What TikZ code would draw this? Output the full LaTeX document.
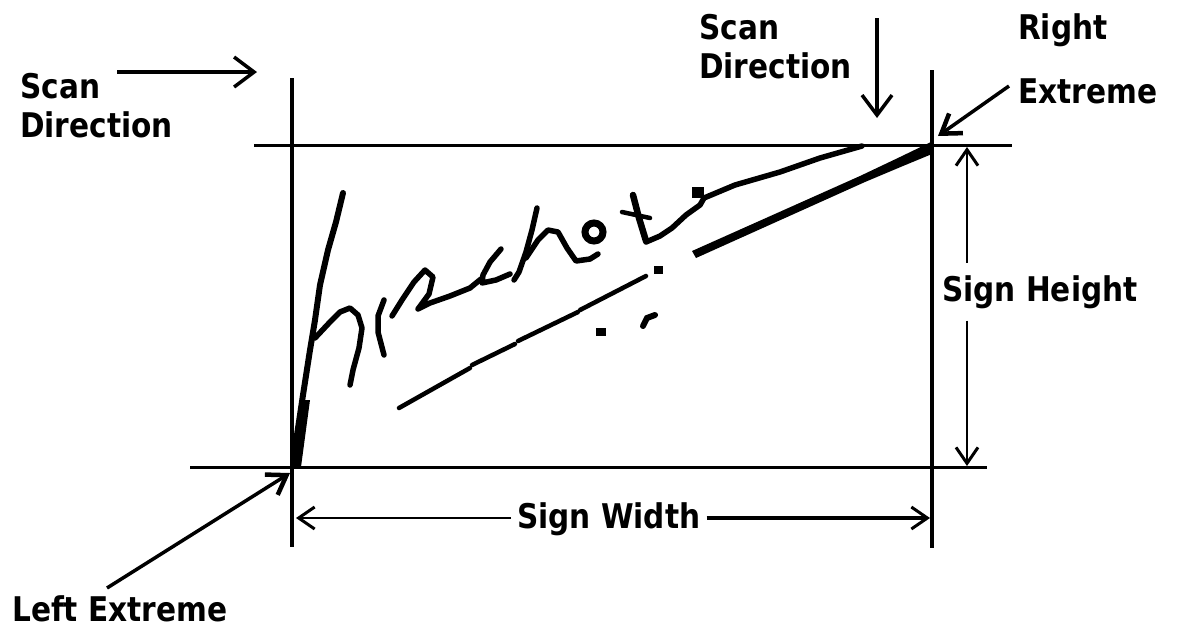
\documentclass[tikz,border=0pt]{standalone}
\usepackage{fontspec}
\newfontfamily\lblfont{DejaVu Sans}[FakeStretch=0.87]
\usetikzlibrary{arrows.meta}
\begin{document}
\begin{tikzpicture}[x=1pt,y=-1pt,
  lbl/.style={font=\lblfont\bfseries\fontsize{34}{39}\selectfont, inner sep=0pt, align=left},
  frameline/.style={line width=3pt},
  ink/.style={line width=5.5pt, line cap=round, line join=round},
  thinink/.style={line width=4.5pt, line cap=round, line join=round},
  scanarrow/.style={line width=4.5pt, -{Straight Barb[length=20pt,width=30pt,line width=3.5pt]}},
  extarrow/.style={line width=3.5pt, -{Straight Barb[length=18pt,width=24pt,line width=4.5pt]}},
  dimarrow/.style={line width=2.5pt, -{Straight Barb[length=16pt,width=22pt,line width=3pt]}},
  dimarrowthick/.style={line width=4.5pt, -{Straight Barb[length=16pt,width=22pt,line width=3pt]}}]
\useasboundingbox (0,0) rectangle (1189,630);
\fill[white] (0,0) rectangle (1189,630);

% frame lines
\draw[line width=4.5pt] (292,78) -- (292,547);
\draw[line width=3.5pt] (932,70) -- (932,548);
\draw[frameline] (254,145) -- (1012,145);
\draw[frameline] (190,467) -- (987,467);

% labels
\node[lbl, anchor=north west] (scanL) at (20,73) {Scan\\Direction};
\node[lbl, anchor=north west] (scanT) at (699,14) {Scan\\Direction};
\node[lbl, anchor=north west, font=\lblfont\bfseries\fontsize{34}{64}\selectfont] (rext) at (1018,13) {Right\\Extreme};
\node[lbl, anchor=base west] (lext) at (12,621) {Left Extreme};
\node[lbl, anchor=base west] (sh) at (942,301) {Sign Height};
\node[lbl, anchor=base west, inner xsep=6pt] (sw) at (511,528) {Sign Width};

% coordinates for free arrow ends
\coordinate (scanLa) at (117,72);
\coordinate (scanLb) at (257,72);
\coordinate (scanTa) at (877,18);
\coordinate (scanTb) at (877,118);
\coordinate (rexta) at (1009,86);
\coordinate (rextb) at (938,136);
\coordinate (lexta) at (107,588);
\coordinate (lextb) at (290,473);
\coordinate (hx) at (967,0);
\coordinate (htop) at (967,147);
\coordinate (hbot) at (967,466);
\coordinate (wy) at (0,518);
\coordinate (wleft) at (296,518);
\coordinate (wright) at (930,518);

% arrows
\draw[scanarrow] (scanLa) -- (scanLb);
\draw[scanarrow] (scanTa) -- (scanTb);
\draw[extarrow] (rexta) -- (rextb);
\draw[extarrow] (lexta) -- (lextb);
\draw[dimarrow, shorten <=12pt] (sh.north -| hx) -- (htop);
\draw[dimarrow, shorten <=12pt] (sh.south -| hx) -- (hbot);
\draw[dimarrow] (sw.west |- wy) -- (wleft);
\draw[dimarrowthick] (sw.east |- wy) -- (wright);

% signature
\draw[line width=6pt, line cap=round, line join=round]
  (343,193) -- (336,222) -- (328,250) -- (320,285) -- (315,320) -- (310,350) -- (303,395) -- (297,435) -- (293,465);
\fill (295,466) -- (302,400) -- (310,400) -- (301,467) -- cycle;
\draw[ink] (315,338) -- (330,322) -- (340,312) -- (350,308) -- (358,315) -- (362,328) -- (359,348) -- (353,370) -- (350,385);
\draw[ink] (384,355) -- (378,332) -- (378,316) -- (384,300);
\draw[ink] (392,316) -- (402,300) -- (414,282) -- (425,270) -- (433,277) -- (429,294) -- (418,309) -- (430,303) -- (450,296) -- (470,288) -- (481,279);
\draw[ink] (501,249) -- (490,262) -- (483,275) -- (482,283) -- (496,280) -- (510,274);
\draw[ink] (537,208) -- (532,230) -- (526,252) -- (519,272) -- (514,280);
\draw[ink] (526,258) -- (538,240) -- (548,230) -- (558,232) -- (567,248) -- (576,261) -- (590,259) -- (598,254);
\draw[line width=7pt] (594,232) ellipse [x radius=9pt, y radius=9pt];
\draw[line width=6.5pt, line cap=round] (633,195) -- (639,218) -- (646,241);
\draw[thinink] (622,212) -- (650,218);
\draw[ink] (646,242) -- (660,236) -- (672,228) -- (686,215) -- (700,205) -- (704,198) -- (735,185) -- (780,172) -- (820,158) -- (862,146);
\fill (692,187) rectangle (704,198);
\fill (692,251) -- (860,176) -- (900,157) -- (931,142) -- (932,154) -- (903,166) -- (865,182) -- (696,258) -- cycle;
\draw[thinink] (399,408) -- (470,368);
\draw[thinink] (472,365) -- (515,344);
\draw[thinink] (518,341) -- (578,312);
\draw[thinink] (580,310) -- (646,276);
\fill (654,266) rectangle (663,274);
\fill (596,328) rectangle (606,336);
\draw[line width=6pt, line cap=round] (643,326) -- (647,318) -- (655,315);
\end{tikzpicture}
\end{document}
